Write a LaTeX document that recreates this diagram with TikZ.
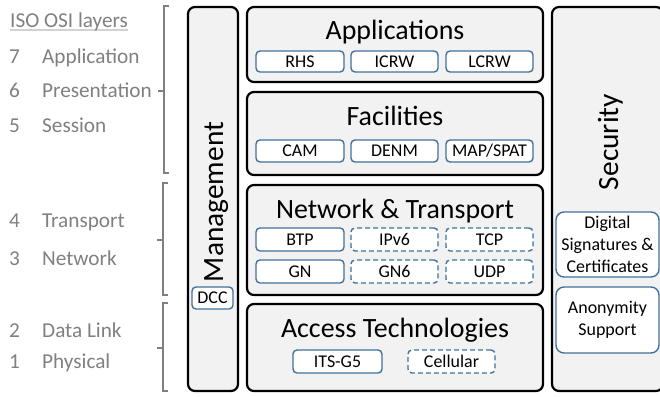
\documentclass[tikz,border=0pt]{standalone}
\usepackage{fontspec}
\setmainfont{Carlito}
\definecolor{boxfill}{HTML}{F2F2F2}
\definecolor{subblue}{HTML}{41719C}
\definecolor{osigray}{HTML}{808080}
\begin{document}
\begin{tikzpicture}[x=1bp,y=-1bp,
  layer/.style={draw=black,line width=2.2bp,fill=boxfill,rounded corners=7bp},
  sub/.style={draw=subblue,line width=1.4bp,fill=white,rounded corners=4bp,
     font=\fontsize{18}{21}\selectfont,inner sep=0pt},
  subd/.style={sub,dash pattern=on 5bp off 3bp},
  title/.style={font=\fontsize{28}{32}\selectfont,anchor=base,inner sep=0pt},
  vtitle/.style={font=\fontsize{29.5}{33}\selectfont,anchor=base,inner sep=0pt,rotate=90},
  osi/.style={font=\fontsize{21.3}{25}\selectfont,text=osigray,anchor=base west,inner sep=0pt},
  brk/.style={draw=osigray,line width=1.1bp}]
\useasboundingbox (0,0) rectangle (660,396);
% outer layers
\draw[layer] (188,7) rectangle (238,391);
\draw[layer] (247,7) rectangle (543,82);
\draw[layer] (247,92) rectangle (543,175);
\draw[layer] (247,185) rectangle (543,295);
\draw[layer] (247,304) rectangle (543,391);
\draw[layer] (552,7) rectangle (663,391);
% titles
\node[title] (tapp) at (395,39) {Applications};
\node[title] (tfac) at (395,125) {Facilities};
\node[title] (tnet) at (395,218) {Network \& Transport};
\node[title] (tacc) at (395,337) {Access Technologies};
\node[vtitle] (tman) at (223,202) {Management};
\node[vtitle] (tsec) at (618,142) {Security};
% sub boxes
\node[sub,minimum width=88bp,minimum height=21bp] (rhs) at (300,61.5) {RHS};
\node[sub,minimum width=87bp,minimum height=21bp] (icrw) at (394.5,61.5) {ICRW};
\node[sub,minimum width=87bp,minimum height=21bp] (lcrw) at (489.5,61.5) {LCRW};
\node[sub,minimum width=88bp,minimum height=22bp] (cam) at (300,151) {CAM};
\node[sub,minimum width=87bp,minimum height=22bp] (denm) at (394.5,151) {DENM};
\node[sub,minimum width=87bp,minimum height=22bp] (map) at (489.5,151) {MAP/SPAT};
\node[sub,minimum width=88bp,minimum height=23bp] (btp) at (300,239.5) {BTP};
\node[subd,minimum width=87bp,minimum height=23bp] (ipv6) at (394.5,239.5) {IPv6};
\node[subd,minimum width=87bp,minimum height=23bp] (tcp) at (489.5,239.5) {TCP};
\node[sub,minimum width=88bp,minimum height=23bp] (gn) at (300,271.5) {GN};
\node[subd,minimum width=87bp,minimum height=23bp] (gn6) at (394.5,271.5) {GN6};
\node[subd,minimum width=87bp,minimum height=23bp] (udp) at (489.5,271.5) {UDP};
\node[sub,minimum width=89bp,minimum height=23bp] (its) at (337.5,361.5) {ITS-G5};
\node[subd,minimum width=87bp,minimum height=23bp] (cell) at (451.5,361.5) {Cellular};
\node[sub,minimum width=41bp,minimum height=22bp] (dcc) at (212.5,298) {DCC};
\node[sub,minimum width=103bp,minimum height=65bp,align=center,rounded corners=8bp,
      font=\fontsize{18}{22}\selectfont] (dig) at (607.5,244.5) {Digital\\Signatures \&\\Certificates};
\node[sub,minimum width=103bp,minimum height=66bp,align=center,rounded corners=8bp,
      font=\fontsize{18}{22}\selectfont] (anon) at (607.5,320) {Anonymity\\Support};
% OSI labels
\node[osi] (iso) at (10,27) {ISO OSI layers};
\draw[draw=osigray,line width=0.9bp] (iso.base west) ++(0,3) -- ([yshift=-3bp]iso.base east);
\node[osi] (n7) at (9,63) {7};   \node[osi] (l7) at (42,63) {Application};
\node[osi] (n6) at (9,97) {6};   \node[osi] (l6) at (42,97) {Presentation};
\node[osi] (n5) at (9,132) {5};  \node[osi] (l5) at (42,132) {Session};
\node[osi] (n4) at (9,227) {4};  \node[osi] (l4) at (42,227) {Transport};
\node[osi] (n3) at (9,265) {3};  \node[osi] (l3) at (42,265) {Network};
\node[osi] (n2) at (9,337) {2};  \node[osi] (l2) at (42,337) {Data Link};
\node[osi] (n1) at (9,368) {1};  \node[osi] (l1) at (42,368) {Physical};
% brackets
\coordinate (b1t) at (164,6); \coordinate (b1b) at (164,173); \coordinate (b1m) at (164,91);
\draw[brk] ([xshift=5bp]b1t) -- (b1t) -- (b1b) -- ([xshift=5bp]b1b);
\draw[brk] (b1m) -- ([xshift=-6bp]b1m);
\coordinate (b2t) at (163,183); \coordinate (b2b) at (163,295); \coordinate (b2m) at (163,240);
\draw[brk] ([xshift=5bp]b2t) -- (b2t) -- (b2b) -- ([xshift=5bp]b2b);
\draw[brk] (b2m) -- ([xshift=-6bp]b2m);
\coordinate (b3t) at (163,303); \coordinate (b3b) at (163,391); \coordinate (b3m) at (163,348);
\draw[brk] ([xshift=5bp]b3t) -- (b3t) -- (b3b) -- ([xshift=5bp]b3b);
\draw[brk] (b3m) -- ([xshift=-6bp]b3m);
\end{tikzpicture}
\end{document}
